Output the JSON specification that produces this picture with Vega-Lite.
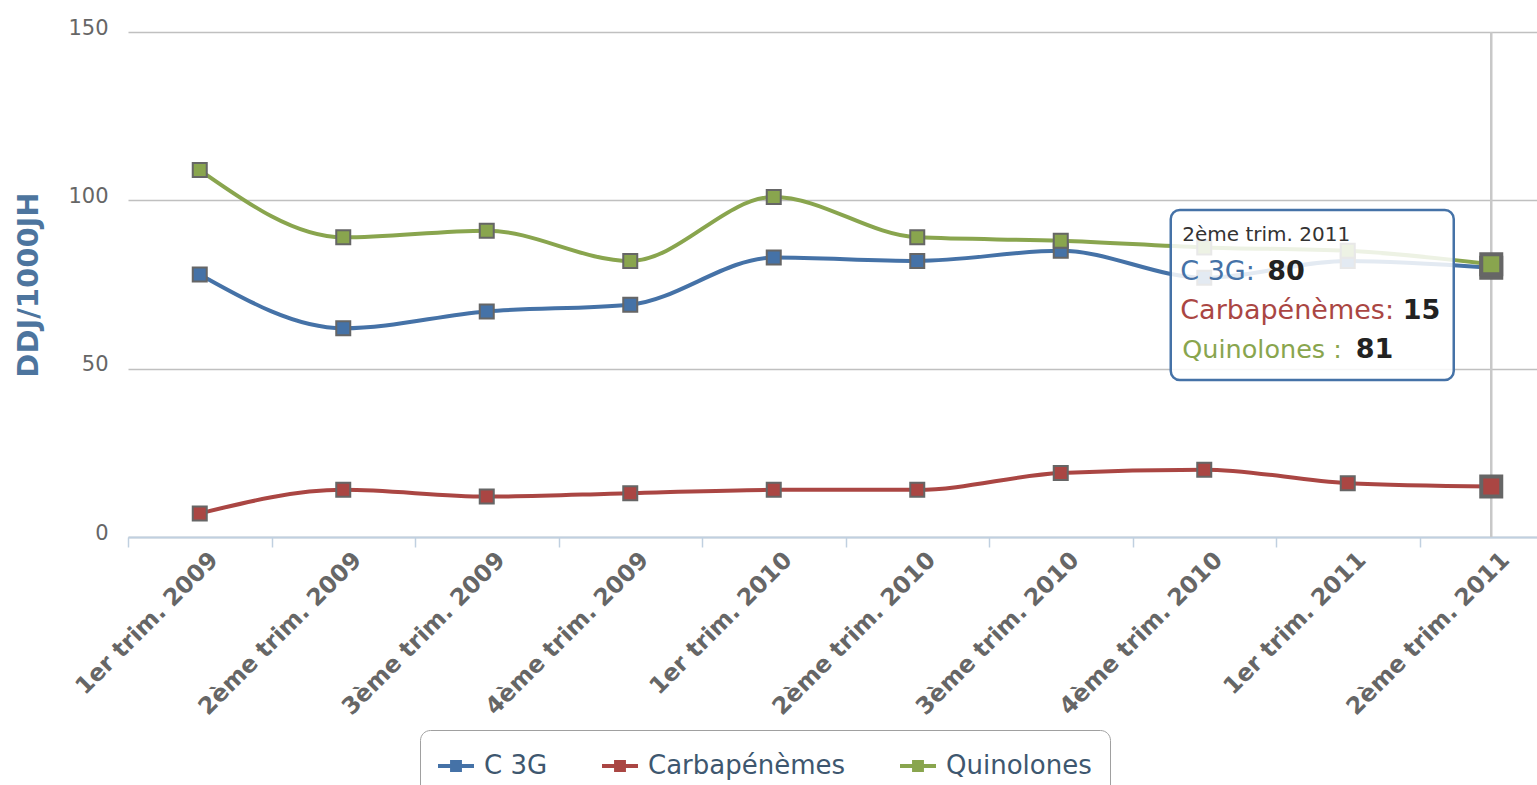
{
  "$schema": "https://vega.github.io/schema/vega-lite/v6.json",
  "width": 1409,
  "height": 505,
  "autosize": {"type": "none"},
  "padding": {"left": 128, "top": 32, "right": 0, "bottom": 248},
  "background": "white",
  "config": {"view": {"stroke": null}, "font": "DejaVu Sans"},
  "datasets": {
    "series": [
      {"quarter": "1er trim. 2009", "series": "C 3G", "value": 78},
      {"quarter": "2ème trim. 2009", "series": "C 3G", "value": 62},
      {"quarter": "3ème trim. 2009", "series": "C 3G", "value": 67},
      {"quarter": "4ème trim. 2009", "series": "C 3G", "value": 69},
      {"quarter": "1er trim. 2010", "series": "C 3G", "value": 83},
      {"quarter": "2ème trim. 2010", "series": "C 3G", "value": 82},
      {"quarter": "3ème trim. 2010", "series": "C 3G", "value": 85},
      {"quarter": "4ème trim. 2010", "series": "C 3G", "value": 77},
      {"quarter": "1er trim. 2011", "series": "C 3G", "value": 82},
      {"quarter": "2ème trim. 2011", "series": "C 3G", "value": 80},
      {"quarter": "1er trim. 2009", "series": "Carbapénèmes", "value": 7},
      {"quarter": "2ème trim. 2009", "series": "Carbapénèmes", "value": 14},
      {"quarter": "3ème trim. 2009", "series": "Carbapénèmes", "value": 12},
      {"quarter": "4ème trim. 2009", "series": "Carbapénèmes", "value": 13},
      {"quarter": "1er trim. 2010", "series": "Carbapénèmes", "value": 14},
      {"quarter": "2ème trim. 2010", "series": "Carbapénèmes", "value": 14},
      {"quarter": "3ème trim. 2010", "series": "Carbapénèmes", "value": 19},
      {"quarter": "4ème trim. 2010", "series": "Carbapénèmes", "value": 20},
      {"quarter": "1er trim. 2011", "series": "Carbapénèmes", "value": 16},
      {"quarter": "2ème trim. 2011", "series": "Carbapénèmes", "value": 15},
      {"quarter": "1er trim. 2009", "series": "Quinolones", "value": 109},
      {"quarter": "2ème trim. 2009", "series": "Quinolones", "value": 89},
      {"quarter": "3ème trim. 2009", "series": "Quinolones", "value": 91},
      {"quarter": "4ème trim. 2009", "series": "Quinolones", "value": 82},
      {"quarter": "1er trim. 2010", "series": "Quinolones", "value": 101},
      {"quarter": "2ème trim. 2010", "series": "Quinolones", "value": 89},
      {"quarter": "3ème trim. 2010", "series": "Quinolones", "value": 88},
      {"quarter": "4ème trim. 2010", "series": "Quinolones", "value": 86},
      {"quarter": "1er trim. 2011", "series": "Quinolones", "value": 85},
      {"quarter": "2ème trim. 2011", "series": "Quinolones", "value": 81}
    ]
  },
  "layer": [
    {
      "data": {"values": [{}]},
      "mark": {"type": "rule", "color": "#C8C8C8", "strokeWidth": 2.5},
      "encoding": {
        "x": {"datum": "2ème trim. 2011", "type": "ordinal"}
      }
    },
    {
      "data": {"name": "series"},
      "mark": {"type": "line", "interpolate": "monotone", "strokeWidth": 4},
      "encoding": {
        "x": {
          "field": "quarter", "type": "ordinal",
          "scale": {
            "type": "band", "paddingInner": 0, "paddingOuter": 0, "range": [0, 1435],
            "domain": ["1er trim. 2009", "2ème trim. 2009", "3ème trim. 2009", "4ème trim. 2009", "1er trim. 2010", "2ème trim. 2010", "3ème trim. 2010", "4ème trim. 2010", "1er trim. 2011", "2ème trim. 2011"]
          },
          "axis": {
            "title": null, "labelAngle": -45, "labelAlign": "right", "labelBaseline": "alphabetic",
            "labelOffset": 19, "labelPadding": 14, "labelFontSize": 23.5, "labelFontWeight": "bold",
            "labelColor": "#666666", "labelFont": "DejaVu Sans", "domainColor": "#C0D0E0", "domainWidth": 2,
            "tickColor": "#C0D0E0", "tickSize": 10, "tickWidth": 1.5, "tickBand": "extent", "grid": false, "labelLimit": 400
          }
        },
        "y": {
          "field": "value", "type": "quantitative",
          "scale": {"domain": [0, 150], "nice": false},
          "axis": {
            "title": "DDJ/1000JH", "values": [0, 50, 100, 150], "grid": true, "gridColor": "#C0C0C0", "gridWidth": 1.5,
            "domain": false, "ticks": false, "labelFontSize": 21, "labelColor": "#666666", "labelFont": "DejaVu Sans",
            "labelPadding": 20, "labelOffset": -4, "titleColor": "#4D759E", "titleFontSize": 29, "titleFontWeight": "bold",
            "titleFont": "DejaVu Sans", "titleX": -91, "titleY": 252.5, "titleAlign": "center", "titleBaseline": "alphabetic", "titleAngle": 270
          }
        },
        "color": {
          "field": "series", "type": "nominal",
          "scale": {"domain": ["C 3G", "Carbapénèmes", "Quinolones"], "range": ["#4572A7", "#AA4643", "#89A54E"]},
          "legend": {
            "orient": "none", "legendX": 292, "legendY": 698, "direction": "horizontal", "title": null,
            "labelFontSize": 26, "labelColor": "#3E576F", "labelFont": "DejaVu Sans",
            "symbolType": "M-1,-0.11H1V0.11H-1Z M-0.33,-0.33H0.33V0.33H-0.33Z", "symbolSize": 1296, "symbolStrokeWidth": 0,
            "columnPadding": 54, "labelOffset": 10, "padding": 18, "strokeColor": "#A0A0A0", "cornerRadius": 10,
            "fillColor": "white", "labelLimit": 400,
            "encode": {"symbols": {"update": {"fill": {"scale": "color", "field": "value"}, "fillOpacity": {"value": 1}, "strokeWidth": {"value": 0}}}}
          }
        }
      }
    },
    {
      "data": {"name": "series"},
      "mark": {"type": "point", "shape": "square", "filled": true, "stroke": "#666666", "opacity": 1},
      "encoding": {
        "x": {"field": "quarter", "type": "ordinal"},
        "y": {"field": "value", "type": "quantitative"},
        "color": {"field": "series", "type": "nominal"},
        "size": {"condition": {"test": "datum.quarter === '2ème trim. 2011'", "value": 400}, "value": 196},
        "strokeWidth": {"condition": {"test": "datum.quarter === '2ème trim. 2011'", "value": 4}, "value": 2}
      }
    },
    {
      "data": {"values": [{}]},
      "mark": {"type": "rect", "width": 283, "xOffset": -35.5, "fill": "white", "fillOpacity": 0.85, "stroke": "#4572A7", "strokeWidth": 2.5, "cornerRadius": 9},
      "encoding": {
        "x": {"datum": "1er trim. 2011", "type": "ordinal"},
        "y": {"datum": 97.1, "type": "quantitative"},
        "y2": {"datum": 46.6}
      }
    },
    {
      "data": {"values": [{}]},
      "mark": {"type": "text", "text": "2ème trim. 2011", "align": "left", "baseline": "alphabetic", "dx": -22, "fontSize": 20, "color": "#333333", "font": "DejaVu Sans"},
      "encoding": {"x": {"datum": "4ème trim. 2010", "type": "ordinal"}, "y": {"datum": 87.9, "type": "quantitative"}}
    },
    {
      "data": {"values": [{}]},
      "mark": {"type": "text", "text": "C 3G:", "align": "left", "baseline": "alphabetic", "dx": -24, "fontSize": 27, "color": "#4572A7", "font": "DejaVu Sans"},
      "encoding": {"x": {"datum": "4ème trim. 2010", "type": "ordinal"}, "y": {"datum": 76.3, "type": "quantitative"}}
    },
    {
      "data": {"values": [{}]},
      "mark": {"type": "text", "text": "Carbapénèmes:", "align": "left", "baseline": "alphabetic", "dx": -24, "fontSize": 27, "color": "#AA4643", "font": "DejaVu Sans"},
      "encoding": {"x": {"datum": "4ème trim. 2010", "type": "ordinal"}, "y": {"datum": 64.8, "type": "quantitative"}}
    },
    {
      "data": {"values": [{}]},
      "mark": {"type": "text", "text": "Quinolones :", "align": "left", "baseline": "alphabetic", "dx": -22, "fontSize": 25.5, "color": "#89A54E", "font": "DejaVu Sans"},
      "encoding": {"x": {"datum": "4ème trim. 2010", "type": "ordinal"}, "y": {"datum": 53.2, "type": "quantitative"}}
    },
    {
      "data": {"values": [{}]},
      "mark": {"type": "text", "text": "80", "align": "left", "baseline": "alphabetic", "dx": 63, "fontSize": 27, "fontWeight": "bold", "color": "#222222", "font": "DejaVu Sans"},
      "encoding": {"x": {"datum": "4ème trim. 2010", "type": "ordinal"}, "y": {"datum": 76.3, "type": "quantitative"}}
    },
    {
      "data": {"values": [{}]},
      "mark": {"type": "text", "text": "15", "align": "left", "baseline": "alphabetic", "dx": 55, "fontSize": 27, "fontWeight": "bold", "color": "#222222", "font": "DejaVu Sans"},
      "encoding": {"x": {"datum": "1er trim. 2011", "type": "ordinal"}, "y": {"datum": 64.8, "type": "quantitative"}}
    },
    {
      "data": {"values": [{}]},
      "mark": {"type": "text", "text": "81", "align": "left", "baseline": "alphabetic", "dx": 8, "fontSize": 27, "fontWeight": "bold", "color": "#222222", "font": "DejaVu Sans"},
      "encoding": {"x": {"datum": "1er trim. 2011", "type": "ordinal"}, "y": {"datum": 53.2, "type": "quantitative"}}
    }
  ]
}
